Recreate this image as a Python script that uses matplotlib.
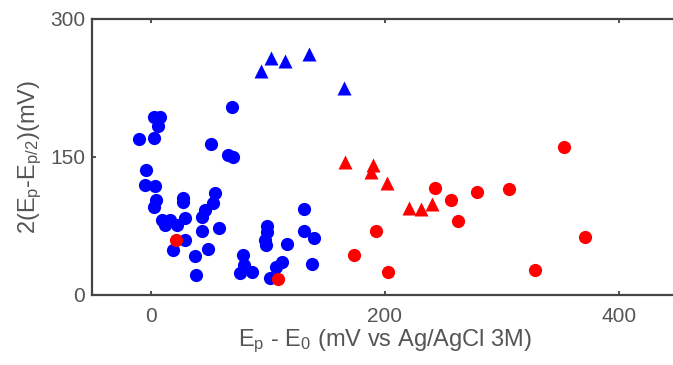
import numpy as np
import matplotlib
matplotlib.use("Agg")
import matplotlib.pyplot as plt

plt.rcParams['font.family'] = ['Liberation Sans', 'DejaVu Sans']
plt.rcParams['mathtext.fontset'] = 'custom'
plt.rcParams['mathtext.rm'] = 'Liberation Sans'
plt.rcParams['mathtext.it'] = 'Liberation Sans'

# blue circles
blue_c_x = [-10.3, 3.2, 2.6, 7.7, 6.0, 69.5, 51.9, 66, 70, -3.7, -4.5, 4.0, 4.9, 2.6,
            27.6, 27.6, 55.3, 53, 46.8, 43.8, 9.7, 16.8, 29.7, 12.6, 22.5, 43.8, 58.1,
            29.7, 18.8, 48.7, 38.2, 38.7, 78.9, 79.5, 76.7, 86.6, 98.9, 99.4, 98, 98.5,
            116, 112.2, 106.6, 102.3, 130.8, 130.8, 139.3, 137.4]
blue_c_y = [169.6, 171, 193.8, 193.8, 184, 204.7, 164, 152, 150, 135.9, 119.6, 118.5, 103.3, 96,
            105, 101, 110.5, 99.7, 92.4, 85, 81.5, 81.5, 83.4, 76, 76, 69.6, 73.2,
            59.8, 48.9, 50, 42.4, 21.7, 43.5, 32.6, 23.6, 25.3, 75, 68.8, 59.8, 54.3,
            55.1, 36.2, 30.8, 18.2, 93.2, 69.6, 62.3, 33.4]

# blue triangles
blue_t_x = [93.8, 102.8, 114.5, 135.3, 165.2]
blue_t_y = [243.8, 257.3, 254.7, 262, 224.7]

# red triangles
red_t_x = [165.6, 189.7, 187.8, 202, 220.5, 230.5, 240]
red_t_y = [144.2, 141.3, 134, 121.4, 94.2, 93.2, 98.6]

# red circles
red_c_x = [22, 108.5, 242.7, 256.7, 278.4, 262.4, 192, 173.8, 202.3, 353, 306, 371, 327.6]
red_c_y = [59.8, 17.4, 116.6, 103.3, 112.3, 80.4, 69.6, 43.5, 25.3, 161.2, 115.2, 63.4, 27.2]

fig = plt.figure(figsize=(6.73, 3.65), dpi=100)
ax = fig.add_axes([0.1367, 0.1918, 0.8707, 0.7562])

ax.plot(blue_c_x, blue_c_y, 'o', color='#0000ff', ms=9.5, mec='none')
ax.plot(blue_t_x, blue_t_y, '^', color='#0000ff', ms=9.5, mec='none')
ax.plot(red_t_x, red_t_y, '^', color='#ff0000', ms=9.5, mec='none')
ax.plot(red_c_x, red_c_y, 'o', color='#ff0000', ms=9.5, mec='none')

ax.set_xlim(-50, 450)
ax.set_ylim(0, 300)
ax.set_xticks([0, 200, 400])
ax.set_yticks([0, 150, 300])

grey = '#555555'
for s in ax.spines.values():
    s.set_linewidth(1.6)
    s.set_color('#444444')
ax.tick_params(direction='in', length=3, width=1.2, color='#333333',
               top=True, right=True, labelsize=15, labelcolor=grey)
ax.tick_params(axis='x', pad=9)
ax.tick_params(axis='y', pad=5)

ax.set_xlabel(r'E$_\mathregular{p}$ - E$_\mathregular{0}$ (mV vs Ag/AgCl 3M)',
              fontsize=17, color=grey, labelpad=1)
ax.set_ylabel(r'2(E$_\mathregular{p}$-E$_\mathregular{p/2}$)(mV)',
              fontsize=17, color=grey, labelpad=4)

fig.savefig('out.png', dpi=100)
